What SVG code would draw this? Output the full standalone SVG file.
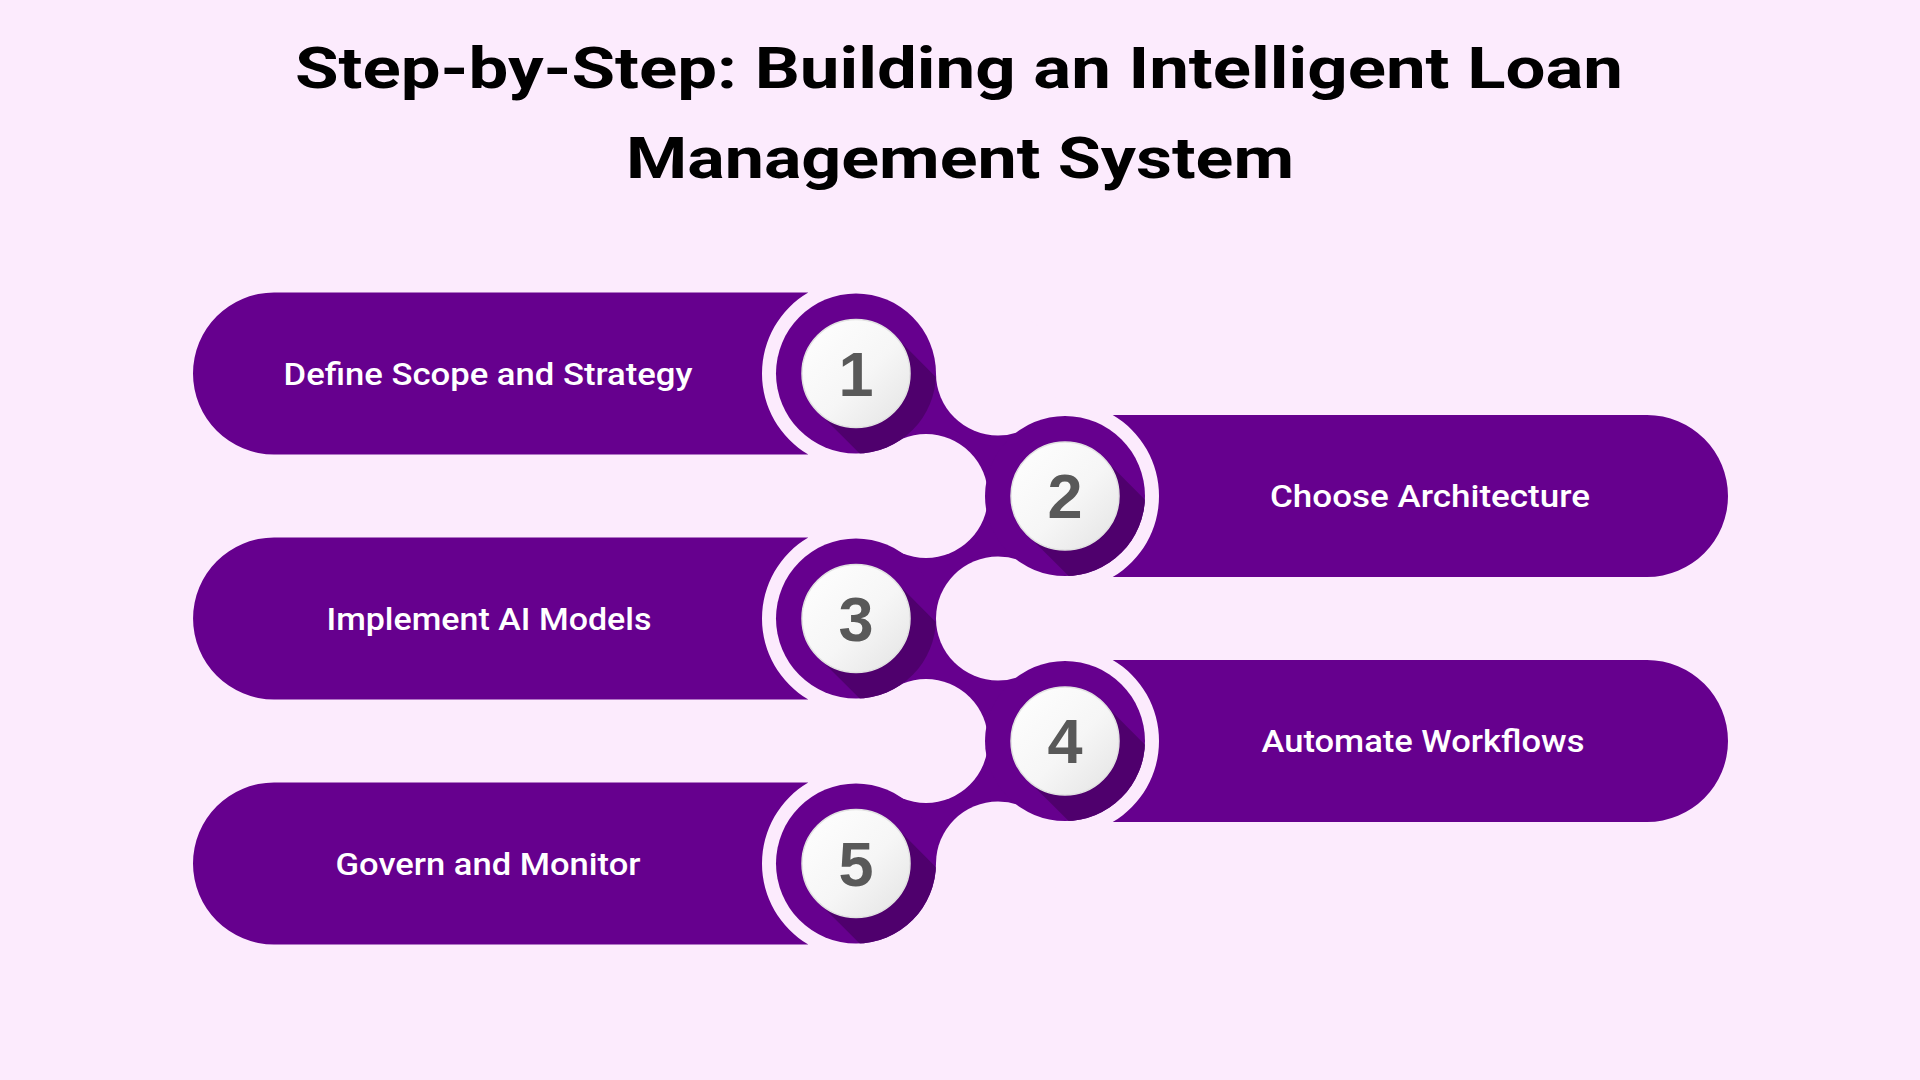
<svg xmlns="http://www.w3.org/2000/svg" width="1920" height="1080" viewBox="0 0 1920 1080">
<defs>
<style>
.bg{fill:#fcebfd}
.pill{fill:#66008e}
.conn{fill:#66008e}
.carve{fill:#fcebfd}
.disc{fill:#66008e}
.shadow{fill:#4f006d}
.face{fill:url(#faceGrad);stroke:#e2e2e2;stroke-width:1.5}
.num{font-family:"Liberation Sans",Arial,sans-serif;font-weight:700;font-size:63px;fill:#595959;text-anchor:middle}
.label{font-family:Roboto,"Noto Sans",sans-serif;font-weight:500;font-size:31px;fill:#ffffff;text-anchor:middle}
.title{font-family:Roboto,"Noto Sans",sans-serif;font-weight:700;font-size:57px;fill:#000000;text-anchor:middle}
</style>
<linearGradient id="faceGrad" x1="0" y1="0" x2="1" y2="1">
<stop offset="0" stop-color="#ffffff"/>
<stop offset="0.55" stop-color="#f6f6f6"/>
<stop offset="1" stop-color="#e3e3e3"/>
</linearGradient>
<clipPath id="discClip"><circle cx="0" cy="0" r="80"/></clipPath>
<g id="badge">
<circle class="disc" cx="0" cy="0" r="80"/>
<polygon class="shadow" clip-path="url(#discClip)" points="38.2,-38.2 130,53.7 53.7,130 -38.2,38.2"/>
<circle class="face" cx="0" cy="0" r="54"/>
</g>
</defs>
<rect class="bg" x="0" y="0" width="1920" height="1080"/>
<g id="title">
<text class="title" x="959" y="88" textLength="1328" lengthAdjust="spacingAndGlyphs">Step-by-Step: Building an Intelligent Loan</text>
<text class="title" x="960" y="178" textLength="668" lengthAdjust="spacingAndGlyphs">Management System</text>
</g>
<g id="connectors">
<polygon class="conn" points="856,373.5 998,373.5 1065,496 926,496"/>
<polygon class="conn" points="1065,496 926,496 856,618.5 998,618.5"/>
<polygon class="conn" points="856,618.5 998,618.5 1065,741 926,741"/>
<polygon class="conn" points="1065,741 926,741 856,863.5 998,863.5"/>
<circle class="carve" cx="998" cy="373.5" r="62"/>
<circle class="carve" cx="926" cy="496" r="62"/>
<circle class="carve" cx="998" cy="618.5" r="62"/>
<circle class="carve" cx="926" cy="741" r="62"/>
<circle class="carve" cx="998" cy="863.5" r="62"/>
</g>
<g id="step1">
<path class="pill" d="M274,292.5 H808.3 A94 94 0 0 0 808.3,454.5 H274 A81 81 0 0 1 274,292.5 Z"/>
<text class="label" x="488" y="384.5" textLength="409" lengthAdjust="spacingAndGlyphs">Define Scope and Strategy</text>
<g transform="translate(856,373.5)"><use href="#badge"/><text class="num" x="0" y="22">1</text></g>
</g>
<g id="step2">
<path class="pill" d="M1112.7,415 H1647 A81 81 0 0 1 1647,577 H1112.7 A94 94 0 0 0 1112.7,415 Z"/>
<text class="label" x="1430" y="507" textLength="320" lengthAdjust="spacingAndGlyphs">Choose Architecture</text>
<g transform="translate(1065,496)"><use href="#badge"/><text class="num" x="0" y="22">2</text></g>
</g>
<g id="step3">
<path class="pill" d="M274,537.5 H808.3 A94 94 0 0 0 808.3,699.5 H274 A81 81 0 0 1 274,537.5 Z"/>
<text class="label" x="489" y="629.5" textLength="325" lengthAdjust="spacingAndGlyphs">Implement AI Models</text>
<g transform="translate(856,618.5)"><use href="#badge"/><text class="num" x="0" y="22">3</text></g>
</g>
<g id="step4">
<path class="pill" d="M1112.7,660 H1647 A81 81 0 0 1 1647,822 H1112.7 A94 94 0 0 0 1112.7,660 Z"/>
<text class="label" x="1423" y="752" textLength="323" lengthAdjust="spacingAndGlyphs">Automate Workflows</text>
<g transform="translate(1065,741)"><use href="#badge"/><text class="num" x="0" y="22">4</text></g>
</g>
<g id="step5">
<path class="pill" d="M274,782.5 H808.3 A94 94 0 0 0 808.3,944.5 H274 A81 81 0 0 1 274,782.5 Z"/>
<text class="label" x="488" y="874.5" textLength="305" lengthAdjust="spacingAndGlyphs">Govern and Monitor</text>
<g transform="translate(856,863.5)"><use href="#badge"/><text class="num" x="0" y="22">5</text></g>
</g>
</svg>
